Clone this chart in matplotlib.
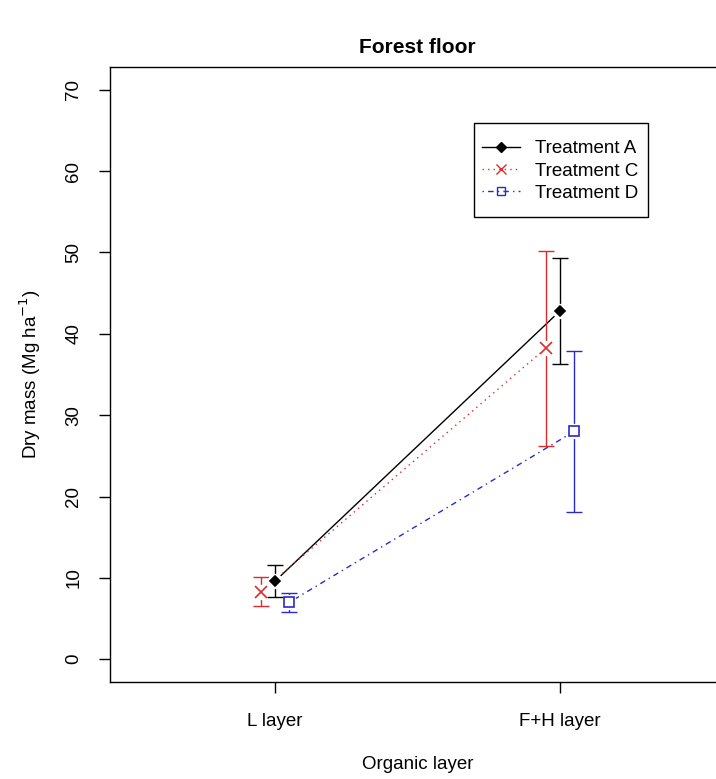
import numpy as np
import matplotlib
matplotlib.use('Agg')
import matplotlib.pyplot as plt
from matplotlib.patches import Rectangle

layers = ['L layer', 'F+H layer']
treatments = ['Treatment A', 'Treatment C', 'Treatment D']
means = {
    'Treatment A': [9.6, 42.8],
    'Treatment C': [8.3, 38.2],
    'Treatment D': [7.0, 28.0],
}
errors = {
    'Treatment A': [1.95, 6.55],
    'Treatment C': [1.8, 11.95],
    'Treatment D': [1.15, 9.85],
}

styles = {
    'Treatment A': dict(color='black', marker='D', ms=5.5, mfc='black', dashes=(), offset=0.0),
    'Treatment C': dict(color='#dd2a2a', marker='x', ms=8, mfc='none', dashes=(1, 3), offset=-0.05),
    'Treatment D': dict(color='#2a2acc', marker='s', ms=7, mfc='none', dashes=(1, 3, 4, 3), offset=0.05),
}

plt.rcParams['font.family'] = ['Liberation Sans', 'DejaVu Sans']
W, H = 716, 779
fig = plt.figure(figsize=(W / 100, H / 100), dpi=100)
ax = fig.add_axes([110 / W, 1 - 682 / H, 615 / W, 615 / H])

x = np.arange(1, len(layers) + 1)
handles = []
for t in treatments:
    s = styles[t]
    xs = x + s['offset']
    ls = '-' if not s['dashes'] else (0, s['dashes'])
    ax.plot(xs, means[t], color=s['color'], lw=1.0, linestyle=ls, zorder=2)
    ax.errorbar(xs, means[t], yerr=errors[t], fmt='none', ecolor=s['color'],
                elinewidth=1.0, capsize=6, capthick=1.0, zorder=2)
    # white gap around the points, like R type="b"
    ax.plot(xs, means[t], 'o', ms=11, mfc='white', mec='none', zorder=3)
    ax.plot(xs, means[t], linestyle='none', marker=s['marker'], ms=s['ms'],
            mfc=s['mfc'], mec=s['color'], mew=1.2, zorder=4)
    h, = ax.plot([], [], color=s['color'], lw=1.0, linestyle=ls, marker=s['marker'],
                 ms=s['ms'] * 0.85, mfc=s['mfc'], mec=s['color'], mew=1.0)
    handles.append(h)

ax.set_xlim(0.42, 2.58)
ax.set_ylim(-2.8, 72.8)
ax.set_xticks(x)
ax.set_xticklabels(layers)
ax.set_yticks(np.arange(0, 71, 10))
for lab in ax.get_yticklabels():
    lab.set_rotation(90)
    lab.set_va('center')
ax.tick_params(length=8, width=1.0, labelsize=13.5, pad=12)
ax.tick_params(axis='x', pad=14)
for sp in ax.spines.values():
    sp.set_linewidth(1.0)

ax.set_xlabel('Organic layer', fontsize=13.5, labelpad=19)
ax.set_ylabel(r'Dry mass (Mg ha$^{-1}$)', fontsize=13.5, labelpad=16)
ax.set_title('Forest floor', fontsize=15, fontweight='bold', pad=10)

# legend box drawn separately so the padding can match R's legend()
ax.add_patch(Rectangle((474 / W, 1 - 217 / H), 174 / W, 94 / H,
                       transform=fig.transFigure, fill=True, fc='white',
                       ec='black', lw=1.0, zorder=5, clip_on=False))
leg = ax.legend(handles, treatments, loc='center',
                bbox_to_anchor=(560 / W, 1 - 171 / H), bbox_transform=fig.transFigure,
                fontsize=13.5, frameon=False, handlelength=2.0,
                labelspacing=0.28, borderpad=0.0, handletextpad=0.8, borderaxespad=0)
leg.set_zorder(6)

fig.savefig('out.png', dpi=100)
